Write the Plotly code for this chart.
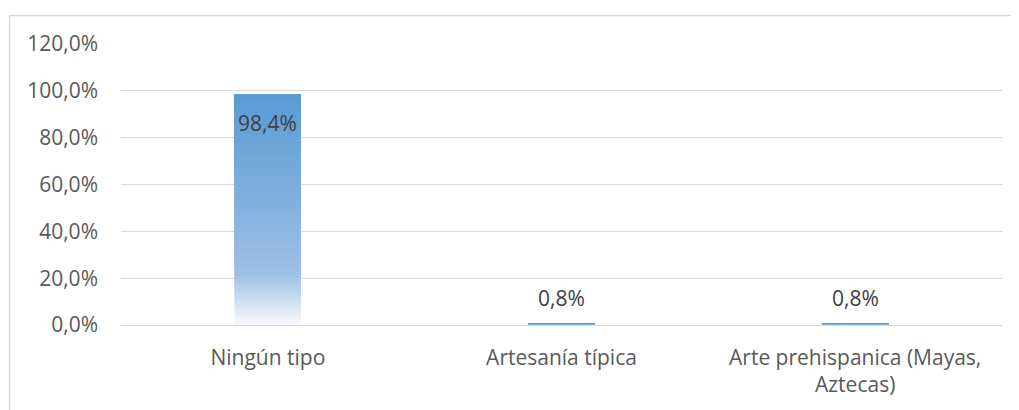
import plotly.graph_objects as go

categories = ["Ningún tipo", "Artesanía típica", "Arte prehispanica (Mayas,<br>Aztecas)"]
values = [0.984, 0.008, 0.008]
y_ticks = [0, 0.2, 0.4, 0.6, 0.8, 1.0, 1.2]

# page has an 8px body margin; the figure is placed at (8, 8)
W, H = 1011, 402
ML, MR, MT, MB = 113, 17, 36, 85
FONT = "Open Sans"
FS = 21

def hexrgb(h):
    h = h.lstrip("#")
    return tuple(int(h[i:i + 2], 16) for i in (0, 2, 4))

# gradient stops: (fraction from bottom, colour)
stops = [(0.0, "#F8FBFE"), (0.22, "#9DC0E4"), (1.0, "#5A9AD5")]

def grad(t):
    for (a, ca), (b, cb) in zip(stops[:-1], stops[1:]):
        if a <= t <= b:
            f = (t - a) / (b - a) if b > a else 0
            ra, ga, ba = hexrgb(ca)
            rb, gb, bb = hexrgb(cb)
            return "rgb(%d,%d,%d)" % (round(ra + (rb - ra) * f), round(ga + (gb - ga) * f), round(ba + (bb - ba) * f))
    return stops[-1][1]

N = 80
fig = go.Figure()
# each layer runs from its base up to the bar's value, so there are no seams
for i in range(N):
    fig.add_trace(go.Bar(
        x=categories,
        y=[v * (1 - i / N) for v in values],
        base=[v * i / N for v in values],
        marker=dict(color=grad((i + 0.5) / N), line=dict(width=0)),
        hoverinfo="skip",
        showlegend=False,
    ))

fig.update_layout(
    width=W, height=H,
    margin=dict(l=ML, r=MR, t=MT, b=MB, pad=0),
    barmode="overlay",
    bargap=0.775,
    plot_bgcolor="white",
    paper_bgcolor="white",
    separators=",.",
    font=dict(family=FONT, size=FS, color="#595959"),
    showlegend=False,
)

# data labels
for c, v in zip(categories, values):
    inside = v > 0.5
    fig.add_annotation(
        x=c, y=v, xref="x", yref="y",
        text=("%.1f%%" % (v * 100)).replace(".", ","),
        showarrow=False,
        yanchor="top" if inside else "bottom",
        yshift=-12 if inside else 9,
        font=dict(family=FONT, size=FS, color="#404040"),
    )

fig.update_yaxes(
    range=[0, 1.2],
    tickvals=y_ticks,
    tickformat=".1%",
    showgrid=True, gridcolor="#D9D9D9", gridwidth=1,
    zeroline=True, zerolinecolor="#D9D9D9", zerolinewidth=1,
    showline=False,
    ticks="", ticklabelstandoff=22,
    tickfont=dict(family=FONT, size=FS, color="#595959"),
    fixedrange=True,
)
fig.update_xaxes(
    showline=False, showgrid=False,
    ticks="", ticklabelstandoff=18,
    tickfont=dict(family=FONT, size=FS, color="#595959"),
    fixedrange=True,
)

# chart area border (light gray), left & top visible
pw, ph = W - ML - MR, H - MT - MB
x0 = (1.5 - ML) / pw
x1 = (W + 5 - ML) / pw
y1 = (H - MB - 7.5) / ph
y0 = (H - MB - (H + 5)) / ph
fig.add_shape(type="rect", xref="paper", yref="paper", x0=x0, x1=x1, y0=y0, y1=y1,
              line=dict(color="#D9D9D9", width=1.3), fillcolor="rgba(0,0,0,0)", layer="below")

fig.write_html("out.html")
